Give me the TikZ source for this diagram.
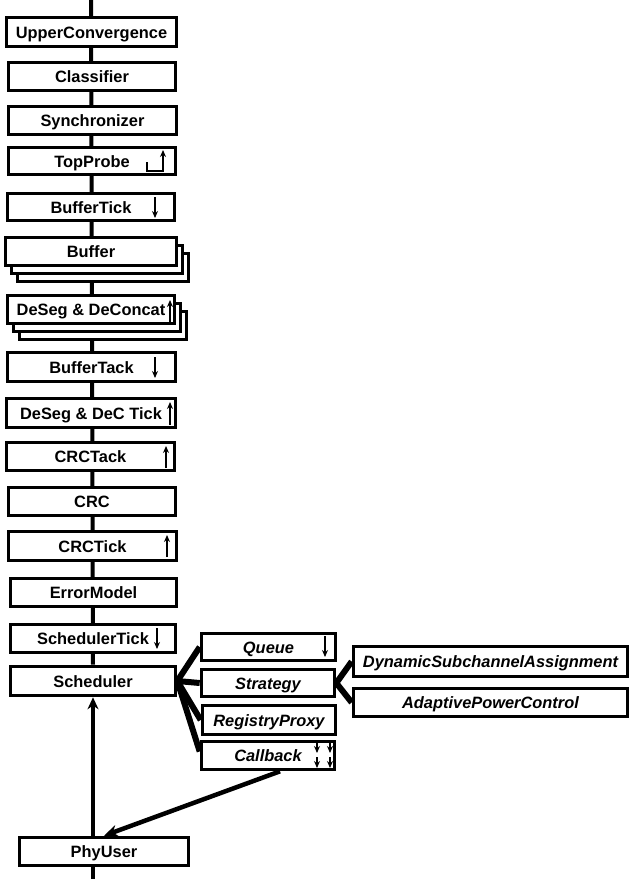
\documentclass[tikz,border=0pt]{standalone}
\usepackage{fontspec}
\setmainfont{Liberation Sans}
\usetikzlibrary{arrows.meta,backgrounds}

\tikzset{
  blk/.style={draw, line width=3.6pt, fill=white, inner sep=0pt,
    text height=12pt, text depth=0pt,
    font=\fontsize{16.4}{18}\selectfont\bfseries},
  ital/.style={blk, font=\fontsize{16.4}{18}\selectfont\bfseries\itshape},
  chain/.style={line width=4pt},
  fan/.style={line width=6pt},
  tick/.style={line width=1.6pt, -{Stealth[length=7pt,width=6pt]}},
  bigarrow/.style={line width=4.5pt, -{Stealth[length=14pt,width=12pt]}},
  uparrow/.style={line width=3.6pt, -{Stealth[length=12pt,width=11pt]}},
}

\begin{document}
\begin{tikzpicture}[x=1pt,y=-1pt]
\useasboundingbox (0,0) rectangle (638,895);

% main protocol stack
\node[blk, minimum width=170pt, minimum height=29pt] (uc)   at (91.5,32)    {UpperConvergence};
\node[blk, minimum width=167pt, minimum height=28pt] (cls)  at (92,76.5)    {Classifier};
\node[blk, minimum width=168pt, minimum height=28pt] (syn)  at (92.5,120.5) {Synchronizer};
\node[blk, minimum width=167pt, minimum height=27pt] (tp)   at (92,161)     {TopProbe};
\node[blk, minimum width=167pt, minimum height=27pt] (bt)   at (91,207)     {BufferTick};
% stacked buffer
\node[blk, minimum width=171pt, minimum height=28pt] (buf3) at (103,267.5)  {};
\node[blk, minimum width=171pt, minimum height=28pt] (buf2) at (97,259.5)   {};
\node[blk, minimum width=171pt, minimum height=28pt] (buf)  at (91,251.5)   {Buffer};
% stacked segmenting/concatenating
\node[blk, minimum width=167pt, minimum height=28pt] (dsd3) at (103,325.5)  {};
\node[blk, minimum width=167pt, minimum height=28pt] (dsd2) at (97,317.5)   {};
\node[blk, minimum width=167pt, minimum height=28pt] (dsd)  at (91,309.5)   {DeSeg \& DeConcat};
\node[blk, minimum width=168pt, minimum height=29pt] (btk)  at (91.5,367)   {BufferTack};
\node[blk, minimum width=169pt, minimum height=29pt] (dst)  at (91,413)     {DeSeg \& DeC Tick};
\node[blk, minimum width=168pt, minimum height=28pt] (crtk) at (90.5,456.5) {CRCTack};
\node[blk, minimum width=167pt, minimum height=28pt] (crc)  at (92,501.5)   {CRC};
\node[blk, minimum width=168pt, minimum height=29pt] (crti) at (92.5,546)   {CRCTick};
\node[blk, minimum width=166pt, minimum height=28pt] (em)   at (93.5,592.5) {ErrorModel};
\node[blk, minimum width=165pt, minimum height=28pt] (st)   at (93,638.5)   {SchedulerTick};
\node[blk, minimum width=165pt, minimum height=29pt] (sch)  at (93,681)     {Scheduler};
\node[blk, minimum width=169pt, minimum height=28pt] (phy)  at (104,851.5)  {PhyUser};

% scheduler parts
\node[ital, minimum width=134pt, minimum height=27pt] (q)   at (268.5,647)  {Queue};
\node[ital, minimum width=133pt, minimum height=27pt] (str) at (268,683)    {Strategy};
\node[ital, minimum width=133pt, minimum height=29pt] (rp)  at (269,720)    {RegistryProxy};
\node[ital, minimum width=133pt, minimum height=28pt] (cb)  at (268,755.5)  {Callback};

% strategy parts
\node[ital, minimum width=274pt, minimum height=30pt] (dsa) at (490.5,661.5) {DynamicSubchannelAssignment};
\node[ital, minimum width=274pt, minimum height=28pt] (apc) at (490.5,702.5) {AdaptivePowerControl};

\coordinate (top) at (91,0);
\coordinate (bot) at (93,879);

\begin{scope}[on background layer]
  % one straight spine runs behind the whole stack
  \draw[chain] (top) -- (sch.north);
  \draw[chain] (phy.south -| bot) -- (bot);
  \draw[fan] (sch.east) -- (q.west);
  \draw[fan] (sch.east) -- (str.west);
  \draw[fan] (sch.east) -- (rp.west);
  \draw[fan] (sch.east) -- ([yshift=4pt]cb.west);
  \draw[fan] (str.east) -- (dsa.west);
  \draw[fan] (str.east) -- (apc.west);
\end{scope}

% data flow arrows
\draw[uparrow] (sch.south |- phy.north) -- (sch.south);
\draw[bigarrow] ([xshift=12pt]cb.south) -- (phy.north);

% direction markers inside the boxes
\draw[tick] (147,162) -- (147,171) -- (163,171) -- (163,150);
\draw[tick] (155,197) -- (155,218);
\draw[tick] (170,322) -- (170,300);
\draw[tick] (155,357) -- (155,378);
\draw[tick] (170,425) -- (170,402);
\draw[tick] (166,468) -- (166,446);
\draw[tick] (167,557) -- (167,535);
\draw[tick] (157,628) -- (157,649);
\draw[tick] (325,636) -- (325,657);
\draw[tick] (317,743) -- (317,753);
\draw[tick] (317,757) -- (317,768);
\draw[tick] (330,743) -- (330,753);
\draw[tick] (330,757) -- (330,768);
\end{tikzpicture}
\end{document}
